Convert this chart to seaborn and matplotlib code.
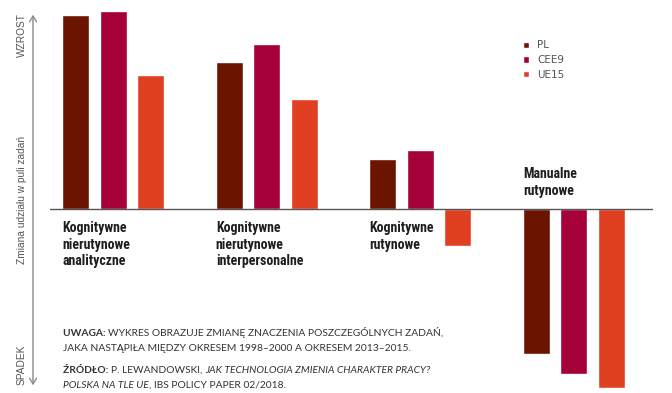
import numpy as np
import pandas as pd
import matplotlib
matplotlib.use("Agg")
import matplotlib.pyplot as plt
import seaborn as sns

# data (units: relative change, arbitrary scale)
categories = ["KNA", "KNI", "KR", "MR"]
category_labels = ["Kognitywne\nnierutynowe\nanalityczne",
                   "Kognitywne\nnierutynowe\ninterpersonalne",
                   "Kognitywne\nrutynowe",
                   "Manualne\nrutynowe"]
groups = ["PL", "CEE9", "UE15"]
pl = [194, 147, 50, -145]
cee9 = [198, 165, 59, -165]
ue15 = [134, 110, -37, -179]
colors = ["#6b1400", "#a6003a", "#e04021"]

df = pd.DataFrame({
    "kat": categories * 3,
    "grupa": [g for g in groups for _ in categories],
    "wartosc": pl + cee9 + ue15,
})

sns.set_style("white")
plt.rcParams["font.family"] = ["DejaVu Sans"]

fig = plt.figure(figsize=(6.72, 3.93), dpi=100)
ax = fig.add_axes([50 / 672, 0, 603 / 672, 1])

sns.barplot(data=df, x="kat", y="wartosc", hue="grupa", order=categories,
            hue_order=groups, palette=colors, width=0.733, gap=0.28,
            saturation=1, ax=ax, errorbar=None)

ax.set_xlim(-0.412, 3.516)
ax.set_ylim(-184, 209)
ax.axhline(0, color="#555555", lw=1)
ax.set_xticks([])
ax.set_yticks([])
ax.set_xlabel("")
ax.set_ylabel("")
sns.despine(ax=ax, left=True, bottom=True)

# category labels
cond = dict(family=["Roboto Condensed", "Barlow Condensed", "DejaVu Sans"],
            fontweight="bold", fontsize=10, color="#1e1e1e", linespacing=1.25)
for i, lab in enumerate(category_labels):
    x0 = i - 0.332
    if i < 3:
        ax.text(x0, -12, lab, ha="left", va="top", **cond)
    else:
        ax.text(x0, 11, lab, ha="left", va="bottom", **cond)

# legend
ax.legend(loc="upper left", bbox_to_anchor=(514 / 672, 1 - 31 / 393),
          bbox_transform=fig.transFigure, frameon=False, fontsize=7.5,
          handlelength=0.55, handleheight=0.55, handletextpad=0.8,
          labelspacing=0.45, labelcolor="#555555")

# left axis arrow and labels
fig.add_artist(matplotlib.patches.FancyArrowPatch(
    (33 / 672, 1 - 388 / 393), (33 / 672, 1 - 12 / 393),
    transform=fig.transFigure, arrowstyle="<->,head_length=4,head_width=2.5",
    color="#8a8a8a", lw=1))
side = dict(rotation=90, ha="center", va="center", fontsize=7.3,
            color="#555555", family=["Liberation Sans", "DejaVu Sans"])
fig.text(22 / 672, 1 - 35 / 393, "WZROST", **side)
fig.text(22 / 672, 1 - 200 / 393, "Zmiana udziału w puli zadań", **side)
fig.text(22 / 672, 1 - 365 / 393, "SPADEK", **side)

# notes with mixed styles, chained one piece after another
note = dict(fontsize=7.4, color="#333333", family=["Lato", "DejaVu Sans"])


def chain(pieces, x, y):
    t = fig.text(x / 672, 1 - y / 393, pieces[0][0], va="baseline", ha="left",
                 fontweight=pieces[0][1], fontstyle=pieces[0][2], **note)
    for txt, w, s in pieces[1:]:
        t = ax.annotate(txt, xy=(1, 0), xycoords=t, va="bottom", ha="left",
                        fontweight=w, fontstyle=s, **note)


chain([("UWAGA: ", "bold", "normal"),
       ("WYKRES OBRAZUJE ZMIANĘ ZNACZENIA POSZCZEGÓLNYCH ZADAŃ,", "normal", "normal")],
      63, 336)
chain([("JAKA NASTĄPIŁA MIĘDZY OKRESEM 1998–2000 A OKRESEM 2013–2015.", "normal", "normal")],
      63, 351)
chain([("ŹRÓDŁO: ", "bold", "normal"),
       ("P. LEWANDOWSKI, ", "normal", "normal"),
       ("JAK TECHNOLOGIA ZMIENIA CHARAKTER PRACY?", "normal", "italic")],
      63, 373)
chain([("POLSKA NA TLE UE", "normal", "italic"),
       (", IBS POLICY PAPER 02/2018.", "normal", "normal")],
      63, 388)

fig.savefig("out.png", dpi=100)
